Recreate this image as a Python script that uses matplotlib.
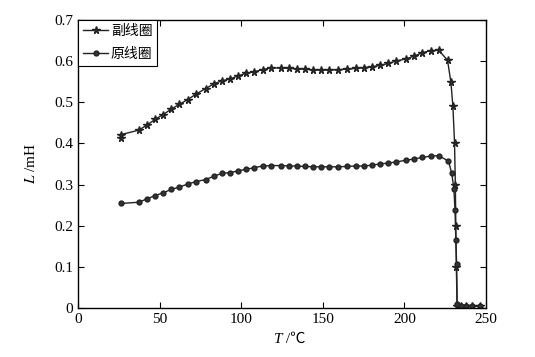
import matplotlib
matplotlib.use('Agg')
import matplotlib.pyplot as plt

plt.rcParams['font.family'] = ['Liberation Serif', 'Noto Sans CJK SC', 'DejaVu Serif']
plt.rcParams['mathtext.fontset'] = 'stix'
plt.rcParams['axes.unicode_minus'] = False

# 副线圈
t_sec = [26, 26, 37, 42, 47, 52, 57, 62, 67, 72, 78, 83, 88, 93, 98, 103, 108, 113, 118,
         124, 129, 134, 139, 144, 149, 154, 159, 165, 170, 175, 180, 185, 190, 195,
         201, 206, 211, 216, 221, 226.4, 228.5, 229.7, 230.7, 231.2, 231.5, 231.8, 232.3,
         234.5, 237.6, 241.2, 246.1]
l_sec = [0.413, 0.421, 0.432, 0.444, 0.458, 0.470, 0.483, 0.495, 0.506, 0.519, 0.533, 0.544,
         0.552, 0.556, 0.564, 0.570, 0.574, 0.579, 0.583, 0.583, 0.582, 0.581, 0.580, 0.578,
         0.578, 0.578, 0.579, 0.580, 0.582, 0.584, 0.586, 0.589, 0.594, 0.600,
         0.605, 0.612, 0.620, 0.625, 0.626, 0.602, 0.548, 0.490, 0.402, 0.300, 0.200, 0.100,
         0.005, 0.005, 0.005, 0.005, 0.005]

# 原线圈
t_pri = [26, 37, 42, 47, 52, 57, 62, 67, 72, 78, 83, 88, 93, 98, 103, 108, 113, 118,
         124, 129, 134, 139, 144, 149, 154, 159, 165, 170, 175, 180, 185, 190, 195,
         201, 206, 211, 216, 221, 227, 229, 230.3, 231, 231.5, 232, 232.3,
         234.5, 237.6, 241.2, 246.1]
l_pri = [0.254, 0.257, 0.265, 0.273, 0.280, 0.288, 0.294, 0.301, 0.307, 0.312, 0.320, 0.327,
         0.329, 0.333, 0.337, 0.341, 0.345, 0.346, 0.346, 0.345, 0.345, 0.344, 0.343, 0.343,
         0.343, 0.343, 0.344, 0.345, 0.345, 0.347, 0.350, 0.352, 0.355,
         0.359, 0.362, 0.366, 0.369, 0.370, 0.357, 0.327, 0.290, 0.238, 0.165, 0.107, 0.009,
         0.005, 0.005, 0.005, 0.005]

fig = plt.figure(figsize=(5.35, 3.57), dpi=100)
ax = fig.add_axes([0.1464, 0.137, 0.762, 0.8076])

ax.plot(t_sec, l_sec, color='#222222', lw=1.0, marker='*', ms=5.5,
        mfc='#333333', mec='#222222', label='副线圈')
ax.plot(t_pri, l_pri, color='#222222', lw=1.0, marker='o', ms=3.5,
        mfc='#333333', mec='#222222', label='原线圈')

ax.set_xlim(0, 250)
ax.set_ylim(0, 0.7)
ax.set_xticks([0, 50, 100, 150, 200, 250])
ax.set_yticks([0, 0.1, 0.2, 0.3, 0.4, 0.5, 0.6, 0.7])
ax.set_yticklabels(['0', '0.1', '0.2', '0.3', '0.4', '0.5', '0.6', '0.7'])
ax.tick_params(direction='in', top=True, right=True, labelsize=11, length=4, width=0.8)
for s in ax.spines.values():
    s.set_linewidth(1.0)

# x label: italic T + " /℃" (℃ needs the CJK fallback, so no mathtext here)
ax.text(0.5, -0.085, 'T', transform=ax.transAxes, ha='right', va='top',
        fontsize=11, style='italic')
ax.text(0.5, -0.085, ' /℃', transform=ax.transAxes, ha='left', va='top', fontsize=11)
ax.set_ylabel('$L$ /mH', fontsize=11, labelpad=12)

leg = ax.legend(loc='upper left', fontsize=10, handlelength=1.8, handletextpad=0.2,
                borderpad=0.35, borderaxespad=0, labelspacing=0.75, fancybox=False,
                framealpha=1, edgecolor='black')
leg.get_frame().set_linewidth(0.8)

fig.savefig('out.png', dpi=100)
